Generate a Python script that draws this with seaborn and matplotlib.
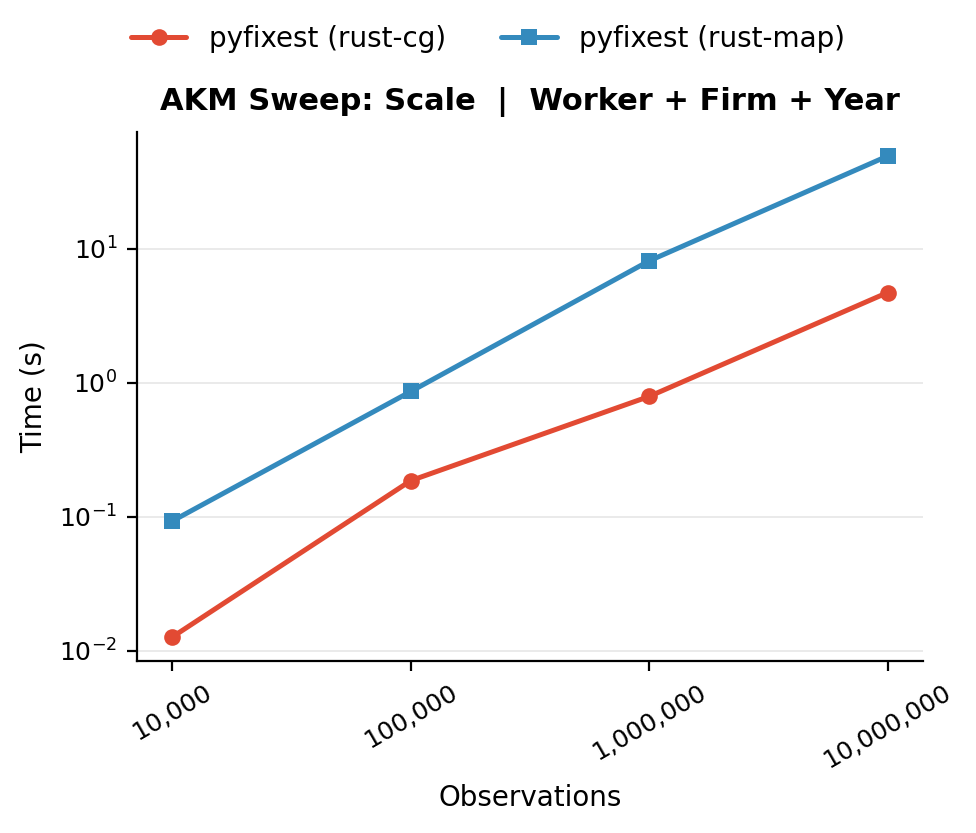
import matplotlib
matplotlib.use("Agg")
import matplotlib.pyplot as plt
import matplotlib.ticker as mticker
import seaborn as sns
import pandas as pd

sns.set_style("ticks")
plt.rcParams['font.family'] = ['DejaVu Sans']
for key in ["text.color", "axes.labelcolor", "xtick.color", "ytick.color", "axes.edgecolor"]:
    plt.rcParams[key] = "black"

observations = [10_000, 100_000, 1_000_000, 10_000_000]
tick_labels = ["10,000", "100,000", "1,000,000", "10,000,000"]
time_cg = [0.0127, 0.186, 0.79, 4.7]
time_map = [0.093, 0.86, 8.1, 49.0]
series_names = ["pyfixest (rust-cg)", "pyfixest (rust-map)"]
colors = ["#E24A33", "#348ABD"]
markers = ["o", "s"]

df = pd.concat([
    pd.DataFrame({"Observations": observations, "Time (s)": time_cg, "method": series_names[0]}),
    pd.DataFrame({"Observations": observations, "Time (s)": time_map, "method": series_names[1]}),
])

fig = plt.figure(figsize=(4.88, 4.165), dpi=200)
ax = fig.add_axes([0.140, 0.2065, 0.806, 0.635])

for name, color, marker in zip(series_names, colors, markers):
    sub = df[df["method"] == name]
    sns.lineplot(data=sub, x="Observations", y="Time (s)", ax=ax, color=color,
                 marker=marker, markersize=6, markeredgewidth=0, linewidth=1.8,
                 label=name, legend=False)

ax.set_xscale("log")
ax.set_yscale("log")
ax.xaxis.set_minor_locator(mticker.NullLocator())
ax.yaxis.set_minor_locator(mticker.NullLocator())
ax.set_xticks(observations)
ax.set_xticklabels(tick_labels, rotation=30, fontsize=9)
ax.tick_params(axis="y", labelsize=9)
ax.grid(axis="y", color="#e6e6e6", linewidth=0.6)
ax.set_axisbelow(True)
ax.set_xlabel("Observations", fontsize=10)
ax.set_ylabel("Time (s)", fontsize=10)
ax.set_title("AKM Sweep: Scale  |  Worker + Firm + Year", fontsize=11, fontweight="bold", pad=8)
sns.despine(ax=ax)

handles, labels = ax.get_legend_handles_labels()
fig.legend(handles, labels, loc="upper center", bbox_to_anchor=(0.5, 1.0), ncol=2,
           frameon=False, fontsize=10, columnspacing=2.0)

fig.savefig("out.png", dpi=200)
